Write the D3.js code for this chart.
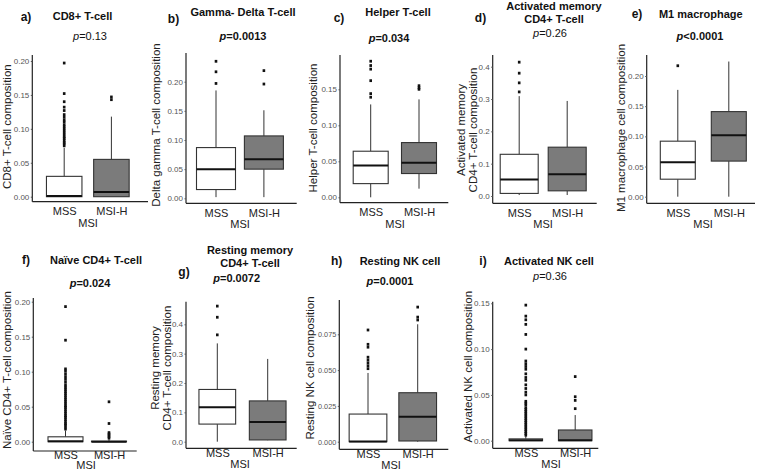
<!DOCTYPE html>
<html><head><meta charset="utf-8">
<script src="https://cdn.jsdelivr.net/npm/d3@7/dist/d3.min.js"></script>
<style>body{margin:0;background:#fff}svg{display:block;font-family:"Liberation Sans",Arial,sans-serif}</style>
</head><body><svg id="c" width="758" height="471"></svg>
<script>
// ---------- data ----------
const groups = ["MSS", "MSI-H"];
const xTitle = "MSI";
const panelLetters = ["a)", "b)", "c)", "d)", "e)", "f)", "g)", "h)", "i)"];
const panelTitles = [["CD8+ T-cell"], ["Gamma- Delta T-cell"], ["Helper T-cell"], ["Activated memory", "CD4+ T-cell"], ["M1 macrophage"],
  ["Naïve CD4+ T-cell"], ["Resting memory", "CD4+ T-cell"], ["Resting NK cell"], ["Activated NK cell"]];
const pTexts = ["=0.13", "=0.0013", "=0.034", "=0.26", "<0.0001", "=0.024", "=0.0072", "=0.0001", "=0.36"];
const pBold = [false, true, true, false, true, true, true, true, false];
const yLabels = [["CD8+ T-cell composition"], ["Delta gamma T-cell composition"], ["Helper T-cell composition"],
  ["Activated memory", "CD4+ T-cell composition"], ["M1 macrophage cell composition"], ["Naïve CD4+ T-cell composition"],
  ["Resting memory", "CD4+ T-cell composition"], ["Resting NK cell composition"], ["Activated NK cell composition"]];
const yTicks = [[0, 0.05, 0.10, 0.15, 0.20], [0, 0.05, 0.10, 0.15, 0.20], [0, 0.05, 0.10, 0.15], [0, 0.1, 0.2, 0.3, 0.4],
  [0, 0.05, 0.10, 0.15, 0.20], [0, 0.05, 0.10, 0.15, 0.20], [0, 0.1, 0.2, 0.3, 0.4], [0, 0.025, 0.05, 0.075], [0, 0.05, 0.10, 0.15]];
const tickFormats = [".2f", ".2f", ".2f", ".1f", ".2f", ".2f", ".1f", ".3f", ".2f"];
// [lower whisker, Q1, median, Q3, upper whisker]
const mssStats = [
  [0, 0, 0.001, 0.030, 0.072],
  [0.002, 0.015, 0.050, 0.087, 0.185],
  [0, 0.019, 0.044, 0.064, 0.129],
  [0.003, 0.008, 0.051, 0.129, 0.309],
  [0, 0.029, 0.057, 0.092, 0.177],
  [0, 0, 0.0005, 0.007, 0.016],
  [0, 0.060, 0.117, 0.178, 0.335],
  [0, 0, 0.0002, 0.0193, 0.048],
  [0, 0, 0.0005, 0.002, 0.005]
];
const msihStats = [
  [0, 0, 0.007, 0.055, 0.118],
  [0.002, 0.050, 0.067, 0.107, 0.151],
  [0.012, 0.033, 0.048, 0.076, 0.136],
  [0.003, 0.016, 0.067, 0.151, 0.294],
  [0, 0.059, 0.102, 0.141, 0.224],
  [0, 0, 0, 0.0008, 0.003],
  [0.005, 0.006, 0.067, 0.139, 0.282],
  [0, 0.0005, 0.0174, 0.0342, 0.082],
  [0, 0, 0.0005, 0.0117, 0.028]
];
const mssOutliers = [
  [0.075, 0.078, 0.080, 0.083, 0.086, 0.088, 0.091, 0.094, 0.097, 0.100, 0.103, 0.106, 0.110, 0.113, 0.117, 0.121, 0.127, 0.132, 0.140, 0.152, 0.197],
  [0.197, 0.217, 0.235],
  [0.139, 0.144, 0.162, 0.178, 0.183, 0.189],
  [0.322, 0.350, 0.380, 0.414],
  [0.217],
  [0.018, 0.021, 0.024, 0.026, 0.029, 0.032, 0.035, 0.037, 0.040, 0.043, 0.046, 0.049, 0.051, 0.054, 0.057, 0.060, 0.063, 0.066, 0.069, 0.072, 0.075, 0.078, 0.081, 0.085, 0.089, 0.093, 0.097, 0.101, 0.104, 0.145, 0.193],
  [0.364, 0.424, 0.462],
  [0.051, 0.053, 0.055, 0.057, 0.059, 0.066, 0.068, 0.078],
  [0.006, 0.008, 0.010, 0.012, 0.014, 0.016, 0.018, 0.020, 0.022, 0.024, 0.026, 0.028, 0.030, 0.032, 0.034, 0.036, 0.039, 0.041, 0.043, 0.050, 0.053, 0.057, 0.061, 0.066, 0.069, 0.073, 0.078, 0.081, 0.084, 0.087, 0.100, 0.116, 0.127, 0.132, 0.136, 0.148]
];
const msihOutliers = [
  [0.143, 0.147],
  [0.196, 0.219],
  [0.150, 0.152, 0.155],
  [],
  [],
  [0.005, 0.007, 0.009, 0.011, 0.013, 0.026, 0.057],
  [],
  [0.085, 0.087, 0.094],
  [0.035, 0.044, 0.048, 0.070]
];

// ---------- layout (pixel positions per panel) ----------
const rowTop = {cat: 13.3, xl: 25};
const rowBot = {cat: 9, xl: 20};
const rowF = {cat: 8, xl: 17.5};
const layout = [
  {ax: 32.3, xEnd: 148, c: [64.2, 111.4], bw: 35.5, top: 55, bottom: 201.7, y0: 196.7, yT: 61, tv: 0.20,
   letter: [26, 21], title: [82.5, 20, 13], p: [90, 40], ylab: [6.7, 126.7], xl: 88, row: rowTop},
  {ax: 186, xEnd: 296.7, c: [216, 263.9], bw: 39, top: 53, bottom: 203.3, y0: 198.3, yT: 81.7, tv: 0.20,
   letter: [173.5, 23], title: [243, 16, 13], p: [243, 40], ylab: [156, 125], xl: 240, row: rowTop},
  {ax: 340, xEnd: 448.3, c: [370.7, 419], bw: 35, top: 55, bottom: 202.7, y0: 197.3, yT: 89.3, tv: 0.15,
   letter: [339, 22], title: [398, 16, 13], p: [389, 42], ylab: [313, 128], xl: 395, row: rowTop},
  {ax: 492.7, xEnd: 596.7, c: [519.2, 567.2], bw: 38, top: 55, bottom: 203.3, y0: 196, yT: 66.7, tv: 0.4,
   letter: [480.5, 21.5], title: [554, 10, 13], p: [550, 37], ylab: [467, 130], xl: 543, row: rowTop},
  {ax: 646.7, xEnd: 755, c: [677.8, 728.8], bw: 35, top: 55, bottom: 203.3, y0: 196.7, yT: 76, tv: 0.20,
   letter: [637, 18], title: [700.8, 18, 13], p: [700, 40], ylab: [621, 128], xl: 703, row: rowTop},
  {ax: 33.3, xEnd: 136.7, c: [65.5, 109], bw: 35, top: 298, bottom: 451, y0: 441.7, yT: 301.7, tv: 0.20,
   letter: [26, 264], title: [96, 264, 13], p: [90, 286.5], ylab: [6.7, 370], xl: 86, row: rowF},
  {ax: 186, xEnd: 296.7, c: [217.3, 267.7], bw: 36.7, top: 301.7, bottom: 448.3, y0: 441.7, yT: 324.3, tv: 0.4,
   letter: [184, 276], title: [250, 254, 12.5], p: [236.7, 282], ylab: [161, 368], xl: 240, row: rowBot},
  {ax: 339.3, xEnd: 448.3, c: [368, 417.7], bw: 37.7, top: 300, bottom: 449.3, y0: 441.7, yT: 334.3, tv: 0.075,
   letter: [336.7, 264.5], title: [400, 264.5, 13], p: [390, 285], ylab: [310, 368], xl: 391, row: rowBot},
  {ax: 492.7, xEnd: 598.3, c: [525.8, 575.2], bw: 33.5, top: 301.7, bottom: 448.3, y0: 440.7, yT: 303.3, tv: 0.15,
   letter: [483, 264.5], title: [549, 264.5, 13], p: [550, 280], ylab: [468, 366.7], xl: 551, row: rowBot}
];

const fills = ["#ffffff", "#7b7b7b"];
const svg = d3.select("#c");

layout.forEach((L, i) => {
  const g = svg.append("g");
  const y = d3.scaleLinear().domain([0, L.tv]).range([L.y0, L.yT]);
  const x = d3.scalePoint().domain(groups).range(L.c);

  // axes lines
  g.append("line").attr("x1", L.ax).attr("x2", L.ax).attr("y1", L.top).attr("y2", L.bottom)
    .attr("stroke", "#222").attr("stroke-width", 1.2);
  g.append("line").attr("x1", L.ax).attr("x2", L.xEnd).attr("y1", L.bottom).attr("y2", L.bottom)
    .attr("stroke", "#222").attr("stroke-width", 1.2);

  // y tick labels via d3 axis
  const yAxis = d3.axisLeft(y).tickValues(yTicks[i]).tickFormat(d3.format(tickFormats[i])).tickSize(1.5).tickPadding(1.5);
  const ya = g.append("g").attr("transform", `translate(${L.ax},0)`).call(yAxis);
  ya.select(".domain").remove();
  ya.selectAll("line").attr("stroke", "#555");
  ya.selectAll("text").attr("font-size", i === 7 ? 7.3 : 8).attr("fill", "#555")
    .attr("font-family", "'Liberation Sans',Arial,sans-serif");

  // x category labels
  const xAxis = d3.axisBottom(x).tickSize(0).tickPadding(0);
  const xa = g.append("g").attr("transform", `translate(0,${L.bottom})`).call(xAxis);
  xa.select(".domain").remove();
  xa.selectAll("text").attr("dy", null).attr("y", L.row.cat).attr("font-size", 11).attr("fill", "#222")
    .attr("font-family", "'Liberation Sans',Arial,sans-serif");
  g.append("text").attr("x", L.xl).attr("y", L.bottom + L.row.xl).attr("text-anchor", "middle")
    .attr("font-size", 11).attr("fill", "#222").text(xTitle);

  // boxes
  const stats = [mssStats[i], msihStats[i]];
  const outs = [mssOutliers[i], msihOutliers[i]];
  groups.forEach((grp, k) => {
    const s = stats[k], cx = x(grp), hw = L.bw / 2;
    g.append("line").attr("x1", cx).attr("x2", cx).attr("y1", y(s[0])).attr("y2", y(s[1]))
      .attr("stroke", "#333").attr("stroke-width", 1);
    g.append("line").attr("x1", cx).attr("x2", cx).attr("y1", y(s[3])).attr("y2", y(s[4]))
      .attr("stroke", "#333").attr("stroke-width", 1);
    g.append("rect").attr("x", cx - hw).attr("width", L.bw)
      .attr("y", y(s[3])).attr("height", Math.max(0.5, y(s[1]) - y(s[3])))
      .attr("fill", fills[k]).attr("stroke", "#333").attr("stroke-width", 1.1);
    g.append("line").attr("x1", cx - hw).attr("x2", cx + hw).attr("y1", y(s[2])).attr("y2", y(s[2]))
      .attr("stroke", "#111").attr("stroke-width", 2);
    g.selectAll(null).data(outs[k]).join("rect")
      .attr("x", cx - 1.3).attr("y", d => y(d) - 1.4).attr("width", 2.6).attr("height", 2.8)
      .attr("fill", "#111");
  });

  // titles
  g.append("text").attr("x", L.letter[0]).attr("y", L.letter[1]).attr("text-anchor", "middle")
    .attr("font-size", 12).attr("font-weight", "bold").attr("fill", "#111").text(panelLetters[i]);
  panelTitles[i].forEach((t, j) => {
    g.append("text").attr("x", L.title[0]).attr("y", L.title[1] + j * L.title[2]).attr("text-anchor", "middle")
      .attr("font-size", 11).attr("font-weight", "bold").attr("fill", "#111").text(t);
  });
  const pt = g.append("text").attr("x", L.p[0]).attr("y", L.p[1]).attr("text-anchor", "middle")
    .attr("font-size", 11).attr("font-weight", pBold[i] ? "bold" : "normal").attr("fill", "#111");
  pt.append("tspan").attr("font-style", "italic").text("p");
  pt.append("tspan").text(pTexts[i]);

  // y axis label
  const yl = yLabels[i];
  yl.forEach((t, j) => {
    const off = (j - (yl.length - 1) / 2) * 12;
    g.append("text").attr("transform", `translate(${L.ylab[0] + off},${L.ylab[1]}) rotate(-90)`)
      .attr("text-anchor", "middle").attr("dominant-baseline", "central")
      .attr("font-size", 11.5).attr("fill", "#222").text(t);
  });
});
</script></body></html>
